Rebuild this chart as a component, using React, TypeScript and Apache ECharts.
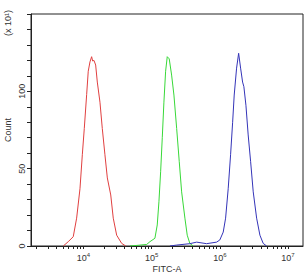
import React, { useEffect, useRef } from "react";
import * as echarts from "echarts";

// FITC-A values (raw) and counts (units of 10^1)
const redX = [5060, 5980, 7080, 7940, 8890, 9620, 10280, 11140, 11750, 12450, 13180, 13650, 14260, 15100, 15960, 17460, 18880, 20650, 22390, 25120, 27350, 30690, 36310, 41690];
const redY = [0, 2.8, 6, 18, 37, 59, 76, 98, 113, 119, 122.4, 119.6, 120, 117, 106, 93, 76, 59, 44, 33, 18, 7, 1.7, 0];

const greenX = [48080, 65000, 84530, 94410, 111700, 120800, 127900, 135500, 143200, 151400, 160300, 169400, 181100, 196300, 212300, 232800, 254100, 275400, 307600, 332700, 363100, 407400];
const greenY = [0, 0.5, 1, 2.8, 5, 13.6, 28.6, 48, 70, 93, 113, 122.4, 121, 110.5, 97.6, 76, 54.5, 35, 18, 7, 1.7, 0];

const blueX = [185400, 232800, 363100, 457100, 639700, 897500, 1000000, 1122000, 1216000, 1327000, 1439000, 1542000, 1626000, 1762000, 1888000, 2018000, 2158000, 2254000, 2415000, 2606000, 2831000, 3090000, 3467000, 3873000, 4325000, 4853000];
const blueY = [0, 0.6, 1.5, 2.5, 1.5, 2.5, 3.9, 9, 18, 37, 59, 80, 97.6, 115, 124.6, 115, 106, 103, 91, 71.8, 54.5, 35, 18, 7, 1.7, 0];

const majorTicks = [1e3, 1e4, 1e5, 1e6, 1e7];
const minorMultipliers = [2, 3, 4, 5, 6, 7, 8, 9];
const xLabelTicks = [1e4, 1e5, 1e6, 1e7];
const yLabelTicks = [0, 50, 100];

const X_MIN = 1700;
const X_MAX = 16600000;

function pairs(xs: number[], ys: number[]) {
  return xs.map((x, i) => [x, ys[i]]);
}

export default function App() {
  const ref = useRef<HTMLDivElement>(null);
  useEffect(() => {
    if (!ref.current) return;
    const chart = echarts.init(ref.current, null, { renderer: "svg" });
    const tickValues: number[] = [];
    majorTicks.forEach((m) => {
      tickValues.push(m);
      minorMultipliers.forEach((k) => tickValues.push(m * k));
    });
    const ticks = tickValues.filter((v) => v >= X_MIN && v <= X_MAX);
    const font = "Liberation Sans";
    chart.setOption({
      animation: false,
      grid: {
        left: 31,
        top: 14,
        right: 2,
        bottom: 29,
        containLabel: false,
        outerBoundsMode: "none",
        show: true,
        borderColor: "#222",
        borderWidth: 1,
        backgroundColor: "transparent",
      },
      xAxis: {
        type: "log",
        logBase: 10,
        min: X_MIN,
        max: X_MAX,
        name: "FITC-A",
        nameLocation: "middle",
        nameGap: 18,
        nameMoveOverlap: false,
        nameTextStyle: { fontFamily: font, fontSize: 9, color: "#333" },
        axisLine: { show: true, lineStyle: { color: "#222", width: 1 } },
        axisTick: { show: true, length: 3, customValues: ticks, lineStyle: { color: "#222" } },
        axisLabel: {
          customValues: xLabelTicks,
          margin: 6,
          formatter: (v: number) => `{a|10}{s|${Math.round(Math.log10(v))}}`,
          rich: {
            a: { fontFamily: font, fontSize: 9, color: "#333" },
            s: { fontFamily: font, fontSize: 6, color: "#333", padding: [0, 0, 6, 0] },
          },
        },
        splitLine: { show: false },
      },
      yAxis: {
        type: "value",
        min: 0,
        max: 150,
        interval: 10,
        name: "Count",
        nameLocation: "middle",
        nameGap: 19,
        nameMoveOverlap: false,
        nameTextStyle: { fontFamily: font, fontSize: 9, color: "#333" },
        axisLine: { show: true, lineStyle: { color: "#222", width: 1 } },
        axisTick: { show: true, length: 4, lineStyle: { color: "#222" } },
        axisLabel: {
          rotate: 90,
          margin: 5,
          fontFamily: font,
          fontSize: 9,
          color: "#333",
          formatter: (v: number) => (yLabelTicks.includes(v) ? String(v) : ""),
        },
        splitLine: { show: false },
      },
      graphic: [
        {
          type: "text",
          x: 8,
          y: 23,
          rotation: Math.PI / 2,
          style: {
            text: "(x 10¹)",
            fontFamily: font,
            fontSize: 9,
            fill: "#333",
            align: "center",
            verticalAlign: "middle",
          },
        },
      ],
      series: [
        {
          type: "line",
          data: pairs(redX, redY),
          showSymbol: false,
          lineStyle: { color: "#e04040", width: 1 },
          itemStyle: { color: "#e04040" },
        },
        {
          type: "line",
          data: pairs(greenX, greenY),
          showSymbol: false,
          lineStyle: { color: "#38d838", width: 1 },
          itemStyle: { color: "#38d838" },
        },
        {
          type: "line",
          data: pairs(blueX, blueY),
          showSymbol: false,
          lineStyle: { color: "#3434b8", width: 1 },
          itemStyle: { color: "#3434b8" },
        },
      ],
    });
    return () => chart.dispose();
  }, []);
  return (
    <div
      ref={ref}
      style={{ position: "fixed", left: 0, top: 0, width: 305, height: 275, background: "#fff" }}
    />
  );
}
